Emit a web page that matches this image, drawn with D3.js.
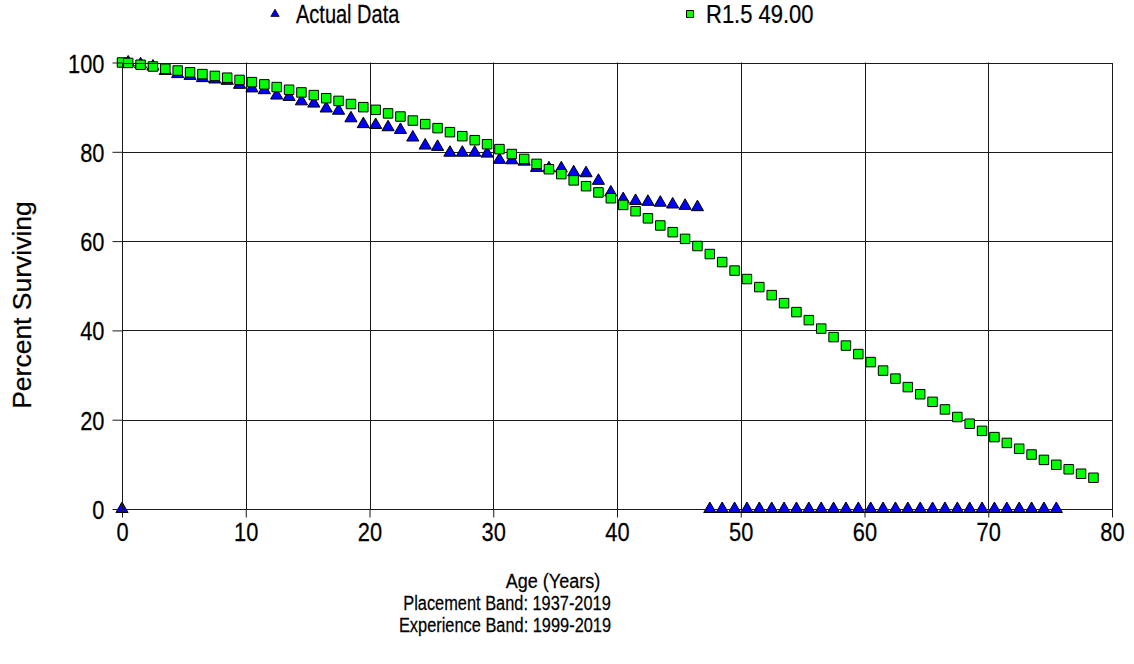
<!DOCTYPE html>
<html>
<head>
<meta charset="utf-8">
<script src="https://cdn.jsdelivr.net/npm/d3@7"></script>
<style>
  body { margin: 0; background: #fff; }
  svg { display: block; }
  text { font-family: "Liberation Sans", Arial, sans-serif; fill: #000; stroke: #000; stroke-width: 0.25px; }
</style>
</head>
<body>
<svg id="chart" width="1134" height="664"></svg>
<script>
// Observed survivorship (percent surviving at each age, years)
const actualAges = [0, 0.5, 1.5, 2.5, 3.5, 4.5, 5.5, 6.5, 7.5, 8.5, 9.5, 10.5, 11.5, 12.5, 13.5, 14.5,
  15.5, 16.5, 17.5, 18.5, 19.5, 20.5, 21.5, 22.5, 23.5, 24.5, 25.5, 26.5, 27.5, 28.5, 29.5, 30.5,
  31.5, 32.5, 33.5, 34.5, 35.5, 36.5, 37.5, 38.5, 39.5, 40.5, 41.5, 42.5, 43.5, 44.5, 45.5, 46.5,
  47.5, 48.5, 49.5, 50.5, 51.5, 52.5, 53.5, 54.5, 55.5, 56.5, 57.5, 58.5, 59.5, 60.5, 61.5, 62.5,
  63.5, 64.5, 65.5, 66.5, 67.5, 68.5, 69.5, 70.5, 71.5, 72.5, 73.5, 74.5, 75.5];
const actualPct = [0, 100, 99.6, 99.1, 98.1, 97.4, 97.0, 96.5, 96.2, 95.9, 95.0, 94.2, 93.8, 92.6, 92.3, 91.3,
  90.8, 89.7, 89.2, 87.5, 86.2, 86.0, 85.5, 84.9, 83.2, 81.4, 81.1, 79.8, 79.8, 79.8, 79.6, 78.2,
  78.1, 77.8, 76.4, 76.3, 76.3, 75.4, 75.2, 73.5, 70.9, 69.4, 69.0, 68.8, 68.6, 68.2, 67.9, 67.6,
  0, 0, 0, 0, 0, 0, 0, 0, 0, 0, 0, 0, 0, 0, 0, 0,
  0, 0, 0, 0, 0, 0, 0, 0, 0, 0, 0, 0, 0];

// Fitted R1.5 Iowa curve, 49.00 year average life
const curveAges = [0, 0.5, 1.5, 2.5, 3.5, 4.5, 5.5, 6.5, 7.5, 8.5, 9.5, 10.5, 11.5, 12.5, 13.5, 14.5,
  15.5, 16.5, 17.5, 18.5, 19.5, 20.5, 21.5, 22.5, 23.5, 24.5, 25.5, 26.5, 27.5, 28.5, 29.5, 30.5,
  31.5, 32.5, 33.5, 34.5, 35.5, 36.5, 37.5, 38.5, 39.5, 40.5, 41.5, 42.5, 43.5, 44.5, 45.5, 46.5,
  47.5, 48.5, 49.5, 50.5, 51.5, 52.5, 53.5, 54.5, 55.5, 56.5, 57.5, 58.5, 59.5, 60.5, 61.5, 62.5,
  63.5, 64.5, 65.5, 66.5, 67.5, 68.5, 69.5, 70.5, 71.5, 72.5, 73.5, 74.5, 75.5, 76.5, 77.5, 78.5];
const curvePct = [100, 99.9, 99.5, 99.1, 98.6, 98.2, 97.8, 97.4, 97.0, 96.6, 96.1, 95.6, 95.1, 94.5, 93.9, 93.3,
  92.7, 92.0, 91.4, 90.7, 90.0, 89.4, 88.6, 87.9, 87.0, 86.2, 85.3, 84.4, 83.5, 82.6, 81.7, 80.6,
  79.5, 78.4, 77.3, 76.1, 75.0, 73.6, 72.3, 70.9, 69.6, 68.1, 66.7, 65.1, 63.5, 62.0, 60.5, 58.9,
  57.1, 55.3, 53.4, 51.5, 49.7, 47.9, 46.1, 44.1, 42.3, 40.4, 38.5, 36.6, 34.7, 32.9, 31.0, 29.2,
  27.3, 25.7, 24.0, 22.3, 20.6, 19.1, 17.5, 16.1, 14.8, 13.5, 12.2, 11.0, 9.9, 8.9, 7.9, 7.0];

const xTicks = [0, 10, 20, 30, 40, 50, 60, 70, 80];
const yTicks = [0, 20, 40, 60, 80, 100];
const seriesNames = ["Actual Data", "R1.5 49.00"];
const xTitleLines = ["Age (Years)", "Placement Band: 1937-2019", "Experience Band: 1999-2019"];
const yTitle = "Percent Surviving";

const svg = d3.select("#chart");
const x = d3.scaleLinear().domain([0, 80]).range([122, 1112]);
const y = d3.scaleLinear().domain([0, 100]).range([509, 62.5]);

const crisp = v => Math.round(v) + 0.5;

// Grid lines
const grid = svg.append("g").attr("stroke", "#1a1a1a").attr("stroke-width", 1);
grid.selectAll("line.v").data(xTicks.slice(1, -1)).join("line")
  .attr("x1", d => crisp(x(d))).attr("x2", d => crisp(x(d)))
  .attr("y1", y(100)).attr("y2", y(0));
grid.selectAll("line.h").data(yTicks.slice(1, -1)).join("line")
  .attr("y1", d => crisp(y(d))).attr("y2", d => crisp(y(d)))
  .attr("x1", x(0)).attr("x2", x(80));

// Markers: triangles for observed data, squares for the fitted curve
const tri = d3.symbol().type(d3.symbolTriangle).size(64)();
const sq = d3.symbol().type(d3.symbolSquare).size(90)();

svg.append("g").selectAll("path").data(actualAges).join("path")
  .attr("d", tri)
  .attr("transform", (d, i) => `translate(${x(d)},${y(actualPct[i])})`)
  .attr("fill", "#0000ff").attr("stroke", "#000").attr("stroke-width", 1);

svg.append("g").selectAll("path").data(curveAges).join("path")
  .attr("d", sq)
  .attr("transform", (d, i) => `translate(${x(d)},${y(curvePct[i])})`)
  .attr("fill", "#00ff00").attr("stroke", "#000").attr("stroke-width", 1);

// Plot frame
svg.append("rect")
  .attr("x", crisp(x(0))).attr("y", crisp(y(100)))
  .attr("width", Math.round(x(80)) - Math.round(x(0)))
  .attr("height", Math.round(y(0)) - Math.round(y(100)))
  .attr("fill", "none").attr("stroke", "#1a1a1a");

// Axes (labels use narrowed letterforms)
const tickSqueeze = 0.84;
const yAxis = svg.append("g")
  .attr("transform", `translate(${crisp(x(0))},0)`)
  .call(d3.axisLeft(y).tickValues(yTicks).tickSize(10).tickPadding(0).tickFormat(d3.format("d")));
yAxis.select(".domain").remove();
yAxis.selectAll(".tick line").attr("stroke", "#1a1a1a");
yAxis.selectAll(".tick text")
  .attr("font-family", null).attr("font-size", 26)
  .attr("x", -18 / tickSqueeze).attr("dy", 9.5).attr("transform", `scale(${tickSqueeze},1)`);

const xAxis = svg.append("g")
  .attr("transform", `translate(0,${crisp(y(0))})`)
  .call(d3.axisBottom(x).tickValues(xTicks).tickSize(8).tickPadding(0).tickFormat(d3.format("d")));
xAxis.select(".domain").remove();
xAxis.selectAll(".tick line").attr("stroke", "#1a1a1a");
xAxis.selectAll(".tick text")
  .attr("font-family", null).attr("font-size", 26)
  .attr("y", 32).attr("dy", 0).attr("transform", `scale(${tickSqueeze},1)`);

// Axis titles
const narrowText = (g, tx, ty, str, size, squeeze, anchor) => g.append("text")
  .attr("transform", `translate(${tx},${ty}) scale(${squeeze},1)`)
  .attr("text-anchor", anchor).attr("font-size", size).text(str);

const xt = svg.append("g");
narrowText(xt, 553, 588, xTitleLines[0], 21, 0.86, "middle");
narrowText(xt, 507, 610, xTitleLines[1], 21, 0.78, "middle");
narrowText(xt, 505, 632, xTitleLines[2], 21, 0.78, "middle");

svg.append("text")
  .attr("transform", "translate(31,305) rotate(-90)")
  .attr("text-anchor", "middle").attr("font-size", 26.5).text(yTitle);

// Legend
const legend = svg.append("g");
legend.append("path").attr("d", d3.symbol().type(d3.symbolTriangle).size(30)())
  .attr("transform", "translate(275,14)")
  .attr("fill", "#0000ff").attr("stroke", "#000").attr("stroke-width", 0.8);
narrowText(legend, 296, 23, seriesNames[0], 25, 0.8, "start");
legend.append("path").attr("d", d3.symbol().type(d3.symbolSquare).size(49)())
  .attr("transform", "translate(690,14)")
  .attr("fill", "#00ff00").attr("stroke", "#000").attr("stroke-width", 1);
narrowText(legend, 706, 23, seriesNames[1], 25, 0.88, "start");
</script>
</body>
</html>
